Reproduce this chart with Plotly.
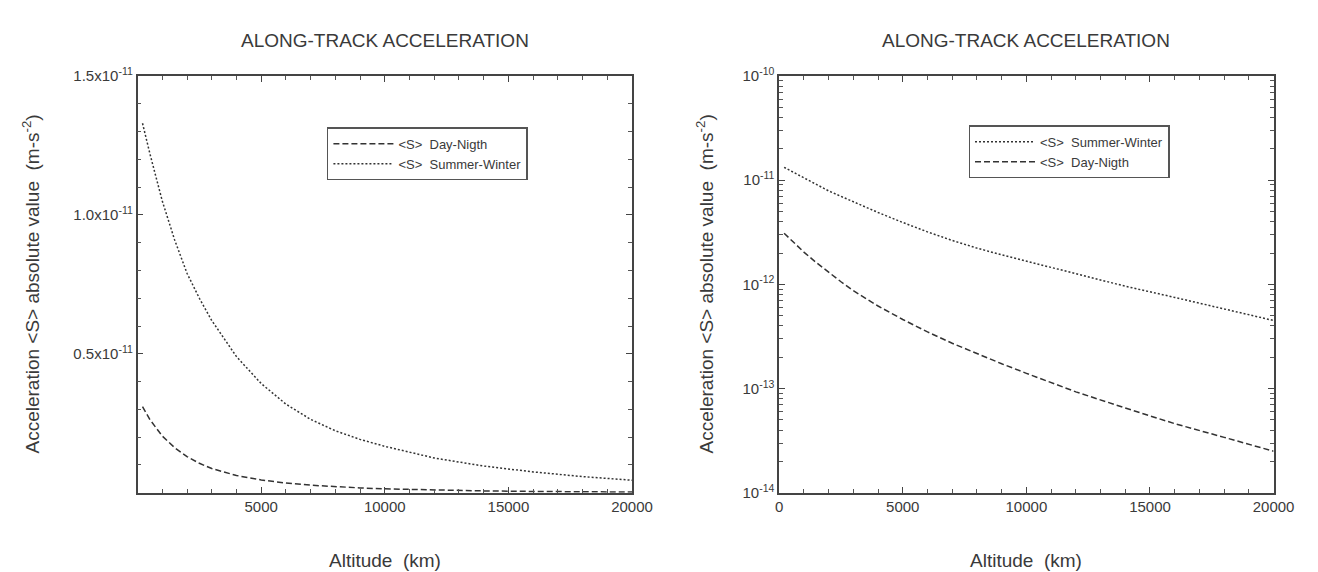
import plotly.graph_objects as go

# ---- data ----
altitude_km = [200, 500, 1000, 1500, 2000, 2500, 3000, 4000, 5000, 6000, 7000,
               8000, 9000, 10000, 12000, 14000, 16000, 18000, 20000]
summer_winter = [1.33e-11, 1.22e-11, 1.05e-11, 9.1e-12, 7.9e-12, 7.0e-12, 6.2e-12,
                 4.9e-12, 3.93e-12, 3.19e-12, 2.64e-12, 2.23e-12, 1.92e-12, 1.67e-12,
                 1.25e-12, 9.6e-13, 7.5e-13, 5.8e-13, 4.5e-13]
day_night = [3.1e-12, 2.63e-12, 2.04e-12, 1.62e-12, 1.30e-12, 1.06e-12, 8.7e-13,
             6.2e-13, 4.6e-13, 3.5e-13, 2.72e-13, 2.16e-13, 1.73e-13, 1.40e-13,
             9.3e-14, 6.5e-14, 4.6e-14, 3.4e-14, 2.5e-14]

name_dn = "&lt;S&gt;  Day-Nigth"
name_sw = "&lt;S&gt;  Summer-Winter"

lin_y_vals = [0.5e-11, 1.0e-11, 1.5e-11]
lin_y_text = ["0.5x10<sup>-11</sup>", "1.0x10<sup>-11</sup>", "1.5x10<sup>-11</sup>"]
left_x_vals = [0, 5000, 10000, 15000, 20000]
left_x_text = ["", "5000", "10000", "15000", "20000"]
right_x_vals = [0, 5000, 10000, 15000, 20000]
right_x_text = ["0", "5000", "10000", "15000", "20000"]
log_y_vals = [1e-14, 1e-13, 1e-12, 1e-11, 1e-10]
log_y_text = ["10<sup>-14</sup>", "10<sup>-13</sup>", "10<sup>-12</sup>",
              "10<sup>-11</sup>", "10<sup>-10</sup>"]

title_text = "ALONG-TRACK ACCELERATION"
x_title = "Altitude  (km)"
y_title = "Acceleration &lt;S&gt; absolute value  (m-s<sup>-2</sup>)"

# ---- styles ----
FONT = "Liberation Sans, Arial, sans-serif"
INK = "#3a3a3a"
LINE = "#333333"
DN_DASH = "6px,3px"
SW_DASH = "2px,2px"

fig = go.Figure()

# left (linear) panel
fig.add_trace(go.Scatter(x=altitude_km, y=day_night, mode="lines", name=name_dn,
                         line=dict(color=LINE, width=1.5, dash=DN_DASH),
                         xaxis="x", yaxis="y", legend="legend"))
fig.add_trace(go.Scatter(x=altitude_km, y=summer_winter, mode="lines", name=name_sw,
                         line=dict(color=LINE, width=1.5, dash=SW_DASH),
                         xaxis="x", yaxis="y", legend="legend"))
# right (log) panel
fig.add_trace(go.Scatter(x=altitude_km, y=summer_winter, mode="lines", name=name_sw,
                         line=dict(color=LINE, width=1.5, dash=SW_DASH),
                         xaxis="x2", yaxis="y2", legend="legend2"))
fig.add_trace(go.Scatter(x=altitude_km, y=day_night, mode="lines", name=name_dn,
                         line=dict(color=LINE, width=1.5, dash=DN_DASH),
                         xaxis="x2", yaxis="y2", legend="legend2"))

axis_common = dict(showline=True, linecolor="#444", linewidth=1.5, mirror="allticks",
                   ticks="inside", ticklen=6, tickcolor="#444", tickwidth=1.3,
                   showgrid=False, zeroline=False,
                   tickfont=dict(family=FONT, size=15, color=INK))
minor_x = dict(ticks="inside", ticklen=4, dtick=1000, tickcolor="#555", tickwidth=1,
               showgrid=False)

y_dom = [1 - 490 / 572, 1 - 59 / 572]

fig.update_layout(
    width=1318, height=572,
    margin=dict(l=0, r=0, t=0, b=0),
    paper_bgcolor="white", plot_bgcolor="white",
    font=dict(family=FONT, color=INK),
    xaxis=dict(domain=[128 / 1318, 632 / 1318], range=[0, 20000], anchor="y",
               tickmode="array", tickvals=left_x_vals, ticktext=left_x_text,
               minor=minor_x, **axis_common),
    yaxis=dict(domain=y_dom, range=[0, 1.5e-11], anchor="x",
               tickmode="array", tickvals=lin_y_vals, ticktext=lin_y_text,
               minor=dict(ticks="inside", ticklen=4, dtick=1e-12, tickcolor="#555",
                          tickwidth=1, showgrid=False),
               **axis_common),
    xaxis2=dict(domain=[782 / 1318, 1286 / 1318], range=[0, 20000], anchor="y2",
                tickmode="array", tickvals=right_x_vals, ticktext=right_x_text,
                minor=minor_x, **axis_common),
    yaxis2=dict(domain=y_dom, type="log", range=[-14, -10], anchor="x2",
                tickmode="array", tickvals=log_y_vals, ticktext=log_y_text,
                minor=dict(ticks="inside", ticklen=4, dtick="D1", tickcolor="#555",
                           tickwidth=1, showgrid=False),
                **axis_common),
    legend=dict(x=321 / 1318, y=1 - 112 / 572, xanchor="left", yanchor="top",
                bordercolor="#555", borderwidth=1.5, bgcolor="white",
                font=dict(family=FONT, size=13, color=INK), itemwidth=60,
                traceorder="normal"),
    legend2=dict(x=975 / 1318, y=1 - 110 / 572, xanchor="left", yanchor="top",
                 bordercolor="#555", borderwidth=1.5, bgcolor="white",
                 font=dict(family=FONT, size=13, color=INK), itemwidth=60,
                 traceorder="normal"),
    showlegend=True,
)

ann_font = dict(family=FONT, size=19, color=INK)
annotations = []
for cx in [(128 + 632) / 2 / 1318, (782 + 1286) / 2 / 1318]:
    annotations.append(dict(text=title_text, x=cx, y=1 - 22 / 572, xref="paper", yref="paper",
                            xanchor="center", yanchor="middle", showarrow=False, font=ann_font))
    annotations.append(dict(text=x_title, x=cx, y=1 - 560 / 572, xref="paper", yref="paper",
                            xanchor="center", yanchor="middle", showarrow=False, font=ann_font))
for tx in [19 / 1318, 706 / 1318]:
    annotations.append(dict(text=y_title, x=tx, y=1 - 274 / 572, xref="paper", yref="paper",
                            xanchor="center", yanchor="middle", textangle=-90,
                            showarrow=False, font=ann_font))
fig.update_layout(annotations=annotations)

fig.write_html("out.html")
